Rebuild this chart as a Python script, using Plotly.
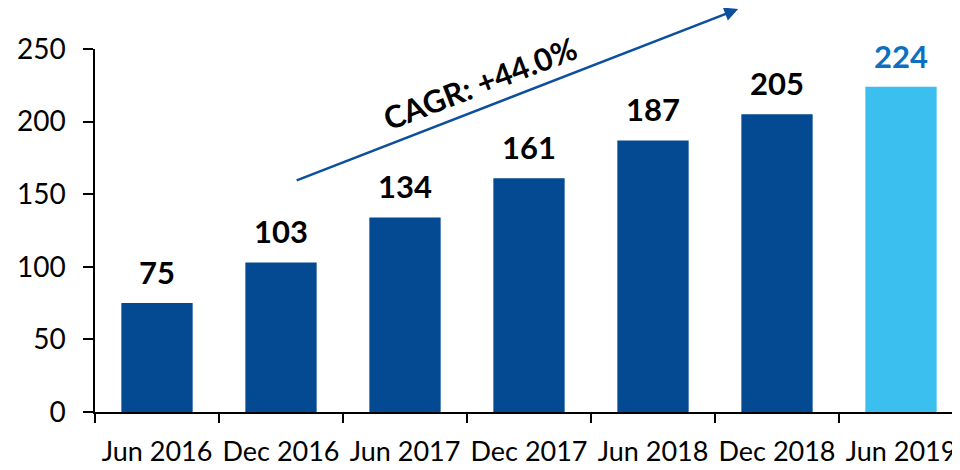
import plotly.graph_objects as go

periods = ["Jun 2016", "Dec 2016", "Jun 2017", "Dec 2017", "Jun 2018", "Dec 2018", "Jun 2019"]
values = [75, 103, 134, 161, 187, 205, 224]
y_ticks = [0, 50, 100, 150, 200, 250]
cagr_label = "CAGR: +44.0%"

c_dark = "#034A93"
c_light = "#3BBFEE"
c_last_label = "#0B70C2"
c_arrow = "#0C4F9E"
font_family = "Lato, 'Noto Sans', sans-serif"

bar_colors = [c_dark] * (len(values) - 1) + [c_light]
label_colors = ["black"] * (len(values) - 1) + [c_last_label]

fig = go.Figure(
    go.Bar(
        x=periods,
        y=values,
        marker=dict(color=bar_colors, line=dict(width=0)),
        width=0.575,
        hoverinfo="x+y",
        showlegend=False,
    )
)

for period, value, color in zip(periods, values, label_colors):
    fig.add_annotation(
        x=period,
        y=value,
        text=str(value),
        showarrow=False,
        yanchor="bottom",
        yshift=10,
        font=dict(family=font_family, size=31, color=color, weight="bold"),
    )

# growth arrow and its label
fig.add_annotation(
    x=0.741,
    y=1.113,
    xref="paper",
    yref="paper",
    ax=-443,
    ay=173,
    text="",
    showarrow=True,
    arrowhead=2,
    arrowsize=1.1,
    arrowwidth=2.5,
    arrowcolor=c_arrow,
)
fig.add_annotation(
    x=0.4435,
    y=0.905,
    xref="paper",
    yref="paper",
    xanchor="center",
    yanchor="middle",
    text=cagr_label,
    showarrow=False,
    textangle=-21,
    font=dict(family=font_family, size=31, color="black", weight="bold"),
)

# the page body adds an 8px offset, so margins are shifted to compensate
fig.update_layout(
    width=960,
    height=470,
    margin=dict(l=87, r=5, t=41, b=66),
    paper_bgcolor="white",
    plot_bgcolor="white",
    font=dict(family=font_family, size=28, color="black"),
    bargap=0.425,
)
fig.update_xaxes(
    type="category",
    range=[-0.5, 6.5],
    automargin=False,
    tickangle=0,
    tickfont=dict(size=27),
    ticklabelstandoff=15,
    showline=True,
    linecolor="black",
    linewidth=1.5,
    ticks="outside",
    tickson="boundaries",
    ticklen=9,
    tickwidth=1.5,
    tickcolor="black",
    showgrid=False,
    zeroline=False,
)
fig.update_yaxes(
    range=[0, 250],
    tickvals=y_ticks,
    automargin=False,
    ticklabelstandoff=12,
    showline=True,
    linecolor="black",
    linewidth=1.5,
    ticks="outside",
    ticklen=10,
    tickwidth=1.5,
    tickcolor="black",
    showgrid=False,
    zeroline=False,
)

fig.write_html("out.html")
